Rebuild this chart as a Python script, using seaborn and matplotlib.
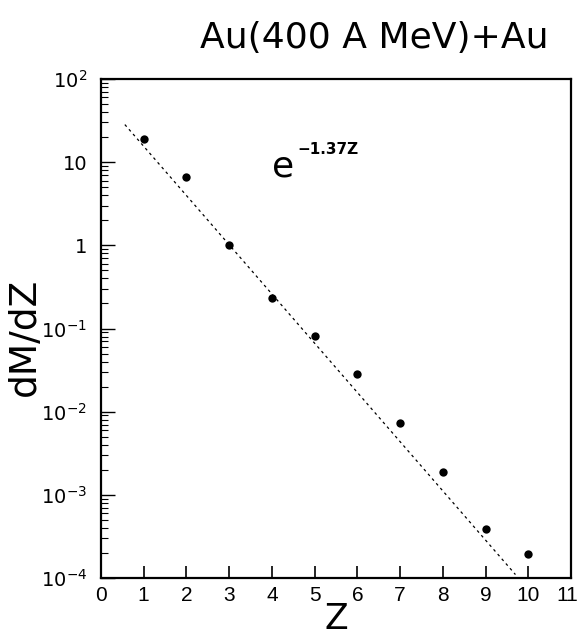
import numpy as np
import pandas as pd
import matplotlib
matplotlib.use("Agg")
import matplotlib.pyplot as plt
import matplotlib.transforms as mtransforms
import seaborn as sns
from matplotlib.ticker import FixedLocator, FixedFormatter, LogLocator, NullFormatter

# Data
Z = [1, 2, 3, 4, 5, 6, 7, 8, 9, 10]
dMdZ = [19.2, 6.6, 1.0, 0.23, 0.081, 0.028, 0.0073, 0.0019, 0.00039, 0.000197]

# Fit line exp(-1.37 Z) (straight on log scale): endpoints
fit_z = [0.56, 9.70]
fit_y = [28.3, 1.1e-4]

xticks = list(range(0, 12))
xticklabels = [str(v) for v in xticks]
yticks = [1e-4, 1e-3, 1e-2, 1e-1, 1, 10, 100]
yticklabels = [r"$10^{-4}$", r"$10^{-3}$", r"$10^{-2}$", r"$10^{-1}$", "1", "10", r"$10^{2}$"]

sns.set_theme(style="white")
plt.rcParams['font.family'] = ['DejaVu Sans']
plt.rcParams['mathtext.fontset'] = 'dejavusans'
for k in ['text.color', 'axes.labelcolor', 'xtick.color', 'ytick.color', 'axes.edgecolor']:
    plt.rcParams[k] = 'black'

fig = plt.figure(figsize=(5.8, 6.37), dpi=100)
ax = fig.add_axes([0.174, 0.0926, 0.8105, 0.7834])

df = pd.DataFrame({"Z": Z, "dMdZ": dMdZ})
fit_df = pd.DataFrame({"Z": fit_z, "y": fit_y})

sns.lineplot(data=fit_df, x="Z", y="y", ax=ax, color="black", lw=0.9,
             linestyle=(0, (2.2, 2.8)))
sns.scatterplot(data=df, x="Z", y="dMdZ", ax=ax, color="black", s=36,
                edgecolor="black", linewidth=0, zorder=3)

ax.set_yscale("log")
ax.set_xlim(0, 11)
ax.set_ylim(1e-4, 1e2)

ax.xaxis.set_major_locator(FixedLocator(xticks))
ax.xaxis.set_major_formatter(FixedFormatter(xticklabels))
ax.yaxis.set_major_locator(FixedLocator(yticks))
ax.yaxis.set_major_formatter(FixedFormatter(yticklabels))
ax.yaxis.set_minor_locator(LogLocator(base=10, subs=np.arange(2, 10)))
ax.yaxis.set_minor_formatter(NullFormatter())

ax.tick_params(axis="x", which="major", direction="in", length=9, width=1.2,
               labelsize=15, pad=6, bottom=True, top=False)
ax.tick_params(axis="y", which="major", direction="in", length=10, width=1.0,
               labelsize=14, pad=10, left=True, right=False)
ax.tick_params(axis="y", which="minor", direction="in", length=5, width=0.8,
               left=True, right=False)

for lab in ax.get_xticklabels():
    lab.set_fontfamily(['Liberation Sans', 'DejaVu Sans'])
last = ax.get_xticklabels()[-1]
last.set_transform(last.get_transform() +
                   mtransforms.ScaledTranslation(-4 / 100, 0, fig.dpi_scale_trans))

for sp in ax.spines.values():
    sp.set_linewidth(1.6)
    sp.set_color("black")

ax.set_xlabel("")
ax.set_ylabel("")
fig.text(336 / 580, 1 - 619 / 637, "Z", fontsize=25, ha="center", va="center")
fig.text(25 / 580, 1 - 337 / 637, "dM/dZ", fontsize=27, rotation=90,
         ha="center", va="center")

ax.text(4.0, 6.75, "e", fontsize=26, ha="left", va="baseline")
ax.text(4.59, 12.4, "\u22121.37Z", fontsize=11, fontweight="bold", ha="left", va="baseline")

fig.text(374 / 580, 1 - 38 / 637, "Au(400 A MeV)+Au", fontsize=26, ha="center", va="center")

fig.savefig("out.png", dpi=100)
